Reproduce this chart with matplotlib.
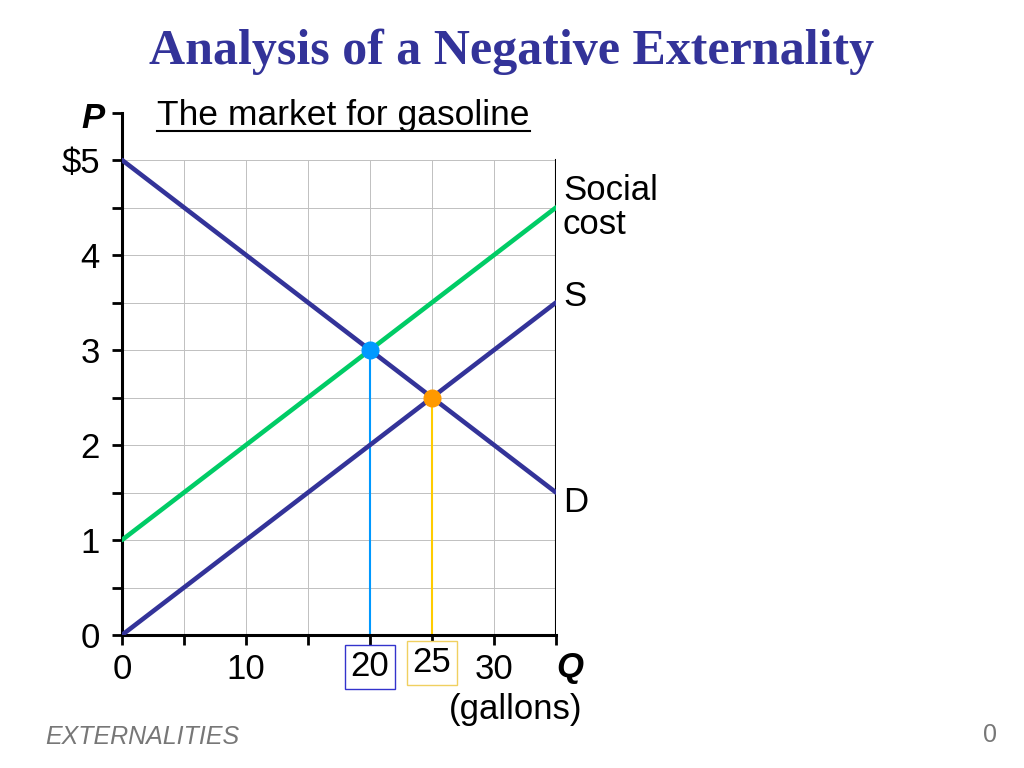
import numpy as np
import matplotlib
matplotlib.use('Agg')
import matplotlib.pyplot as plt

plt.rcParams['font.family'] = ['Liberation Sans', 'DejaVu Sans']

# curve data: quantities and prices
q = [0, 35]
demand = [5, 1.5]
supply = [0, 3.5]
social_cost = [1, 4.5]

q_opt, p_opt = 20, 3
q_mkt, p_mkt = 25, 2.5

x_ticks = [0, 5, 10, 15, 20, 25, 30, 35]
x_labels = {0: '0', 10: '10', 30: '30'}
y_major = [0, 1, 2, 3, 4, 5]
y_labels = ['0', '1', '2', '3', '4', '$5']
y_minor = [0.5, 1.5, 2.5, 3.5, 4.5, 5.5]

navy = '#333399'
green = '#00CC66'

fig = plt.figure(figsize=(10.24, 7.68), dpi=100)
ax = fig.add_axes([122/1024, 1-635/768, (556-122)/1024, (635-112.5)/768])
ax.set_xlim(0, 35)
ax.set_ylim(0, 5.5)

# grid only inside the P<=5 box
for x in x_ticks[1:]:
    ax.plot([x, x], [0, 5], color='#c0c0c0', lw=0.7, zorder=1)
for y in np.arange(0.5, 5.01, 0.5):
    ax.plot([0, 35], [y, y], color='#c0c0c0', lw=0.7, zorder=1)
ax.plot([35, 35], [0, 5], color='black', lw=1.5, zorder=2)

ax.plot(q, demand, color=navy, lw=3.3, zorder=3, solid_capstyle='round')
ax.plot(q, supply, color=navy, lw=3.3, zorder=3, solid_capstyle='round')
ax.plot(q, social_cost, color=green, lw=3.3, zorder=3, solid_capstyle='round')

ax.plot([q_opt, q_opt], [0, p_opt], color='#0099FF', lw=1.5, zorder=2)
ax.plot([q_mkt, q_mkt], [0, p_mkt], color='#FFCC00', lw=1.5, zorder=2)
ax.plot(q_opt, p_opt, 'o', color='#0099FF', ms=12, zorder=4)
ax.plot(q_mkt, p_mkt, 'o', color='#FF9900', ms=12, zorder=4)

for s in ['top', 'right']:
    ax.spines[s].set_visible(False)
for s in ['left', 'bottom']:
    ax.spines[s].set_linewidth(2.2)

ax.set_yticks(y_major)
ax.set_yticklabels(y_labels, fontsize=25)
ax.set_yticks(y_minor, minor=True)
ax.set_xticks(x_ticks)
ax.set_xticklabels([x_labels.get(x, '') for x in x_ticks], fontsize=25)
ax.tick_params(axis='both', which='both', direction='out', length=7, width=2)
ax.tick_params(axis='y', pad=9)
ax.tick_params(axis='x', pad=6)

# boxed quantity labels
ax.annotate('20', xy=(q_opt, 0), xytext=(0, -32), textcoords='offset pixels',
            ha='center', va='center', fontsize=25,
            bbox=dict(boxstyle='square,pad=0.15', fc='white', ec='#3333CC', lw=1))
ax.annotate('25', xy=(q_mkt, 0), xytext=(0, -28), textcoords='offset pixels',
            ha='center', va='center', fontsize=25,
            bbox=dict(boxstyle='square,pad=0.15', fc='white', ec='#F0D060', lw=1))

# curve labels
fig.text(563/1024, 1-190/768, 'Social', fontsize=25, va='center')
fig.text(563/1024, 1-225/768, 'cost', fontsize=25, va='center')
fig.text(563/1024, 1-296/768, 'S', fontsize=25, va='center')
fig.text(563/1024, 1-502/768, 'D', fontsize=25, va='center')

fig.text(93/1024, 1-118/768, 'P', fontsize=25, weight='bold', style='italic',
         ha='center', va='center')
fig.text(570/1024, 1-667/768, 'Q', fontsize=25, weight='bold', style='italic',
         ha='center', va='center')
fig.text(516/1024, 1-710/768, '(gallons)', fontsize=25, ha='center', va='center')

fig.text(157/1024, 1-116/768, 'The market for gasoline', fontsize=25.5, va='center')
fig.add_artist(plt.Line2D([157/1024, 530/1024], [1-131/768, 1-131/768],
                          color='black', lw=1.5))

fig.text(512/1024, 1-52/768, 'Analysis of a Negative Externality',
         fontsize=36, weight='bold', color=navy, family='Liberation Serif',
         ha='center', va='center')

fig.text(45/1024, 1-737/768, 'EXTERNALITIES', fontsize=18, style='italic',
         color='#777777', va='center')
fig.text(990/1024, 1-735/768, '0', fontsize=18, color='#777777',
         ha='center', va='center')

fig.savefig('out.png', dpi=100)
